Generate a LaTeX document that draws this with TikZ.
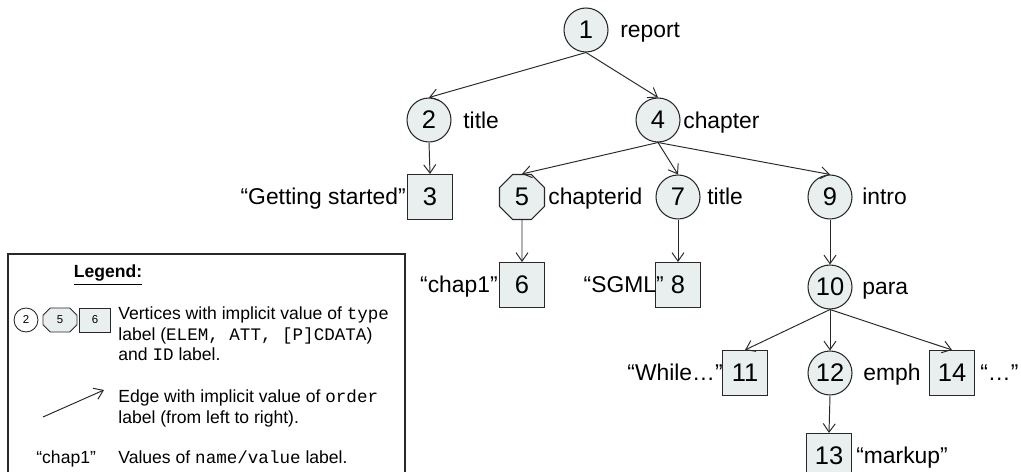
\documentclass[tikz,border=0pt]{standalone}
\usepackage{fontspec}
\setmainfont{Liberation Sans}
\setmonofont{Liberation Mono}
\usetikzlibrary{arrows.meta,shapes.geometric,shapes.misc}

\definecolor{vfill}{RGB}{233,239,239}
\definecolor{vline}{RGB}{40,40,40}

\tikzset{
  vertex/.style={draw=vline, fill=vfill, line width=0.6pt, inner sep=0pt,
    font=\fontsize{14.5}{16}\selectfont},
  elem/.style={vertex, circle, minimum size=0.88cm},
  att/.style={vertex, regular polygon, regular polygon sides=8, minimum size=0.975cm},
  cdata/.style={vertex, rectangle, minimum size=0.9cm},
  lbl/.style={font=\fontsize{13}{15}\selectfont, inner sep=0pt},
  edge/.style={draw=vline, line width=0.55pt, -{Straight Barb[length=1.7mm,width=2.4mm]}},
  lgvertex/.style={draw=vline, fill=vfill, line width=0.5pt, inner sep=0pt,
    font=\fontsize{6.5}{8}\selectfont},
  lgtext/.style={font=\fontsize{10}{12}\selectfont, inner sep=0pt},
}

\begin{document}
\begin{tikzpicture}[x=0.02cm,y=-0.02cm]
\useasboundingbox (0,0) rectangle (1021,472);

% tree vertices
\node[elem]  (n1)  at (586,30)  {1};
\node[elem]  (n2)  at (429,120) {2};
\node[elem]  (n4)  at (658,120) {4};
\node[cdata] (n3)  at (430,197) {3};
\node[att]   (n5)  at (522,197) {5};
\node[elem]  (n7)  at (678,197) {7};
\node[elem]  (n9)  at (830,197) {9};
\node[cdata] (n6)  at (522,285) {6};
\node[cdata] (n8)  at (678,285) {8};
\node[elem]  (n10) at (830,287) {10};
\node[cdata] (n11) at (745,373) {11};
\node[elem]  (n12) at (830,373) {12};
\node[cdata] (n14) at (952,373) {14};
\node[cdata] (n13) at (829,456) {13};

% names and values
\node[lbl, anchor=base west] (l1)  at (620,38)  {report};
\node[lbl, anchor=base west] (l2)  at (463,129) {title};
\node[lbl, anchor=base west] (l4)  at (683,129) {chapter};
\node[lbl, anchor=base east] (l3)  at (406,205) {“Getting started”};
\node[lbl, anchor=base west] (l5)  at (548,205) {chapterid};
\node[lbl, anchor=base west] (l7)  at (707,205) {title};
\node[lbl, anchor=base west] (l9)  at (862,205) {intro};
\node[lbl, anchor=base east] (l6)  at (498,293) {“chap1”};
\node[lbl, anchor=base east] (l8)  at (664,293) {“SGML”};
\node[lbl, anchor=base west] (l10) at (862,295) {para};
\node[lbl, anchor=base east] (l11) at (723,381) {“While…”};
\node[lbl, anchor=base west] (l12) at (863,381) {emph};
\node[lbl, anchor=base west] (l14) at (980,381) {“…”};
\node[lbl, anchor=base west] (l13) at (856,464) {“markup”};

% ordered edges
\draw[edge] (n1.south)  -- (n2.north);
\draw[edge] (n1.south)  -- (n4.north);
\draw[edge] (n2.south)  -- (n3.north);
\draw[edge] (n4.south)  -- (n5.north);
\draw[edge] (n4.south)  -- (n7.north);
\draw[edge] (n4.south)  -- (n9.north);
\draw[edge] (n5.south)  -- (n6.north);
\draw[edge] (n7.south)  -- (n8.north);
\draw[edge] (n9.south)  -- (n10.north);
\draw[edge] (n10.south) -- (n11.north);
\draw[edge] (n10.south) -- (n12.north);
\draw[edge] (n10.south) -- (n14.north);
\draw[edge] (n12.south) -- (n13.north);

% legend
\draw[draw=vline, line width=0.6pt] (8,254) rectangle (405,480);
\node[font=\bfseries\fontsize{10}{12}\selectfont, anchor=base, inner sep=0pt]
  (legtitle) at (108,278) {\underline{Legend:}};

\node[lgvertex, circle, fill=white, minimum size=0.48cm] (lg2) at (26,320) {2};
\node[lgvertex, chamfered rectangle, chamfered rectangle xsep=0.15cm,
  minimum width=0.68cm, minimum height=0.48cm] (lg5) at (60,320) {5};
\node[lgvertex, rectangle, minimum width=0.63cm, minimum height=0.48cm] (lg6) at (95,320) {6};

\node[lgtext, anchor=base west] (lt1) at (118,320) {Vertices with implicit value of \texttt{type}};
\node[lgtext, anchor=base west] (lt2) at (118,341) {label (\texttt{ELEM, ATT, [P]CDATA})};
\node[lgtext, anchor=base west] (lt3) at (118,361) {and \texttt{ID} label.};

\coordinate (la) at (43,417);
\coordinate (lb) at (104,390);
\draw[edge] (la) -- (lb);
\node[lgtext, anchor=base west] (lt4) at (118,403) {Edge with implicit value of \texttt{order}};
\node[lgtext, anchor=base west] (lt5) at (118,424) {label (from left to right).};

\node[lgtext, anchor=base west] (lt7) at (36,464) {“chap1”};
\node[lgtext, anchor=base west] (lt6) at (118,464) {Values of \texttt{name/value} label.};
\end{tikzpicture}
\end{document}
